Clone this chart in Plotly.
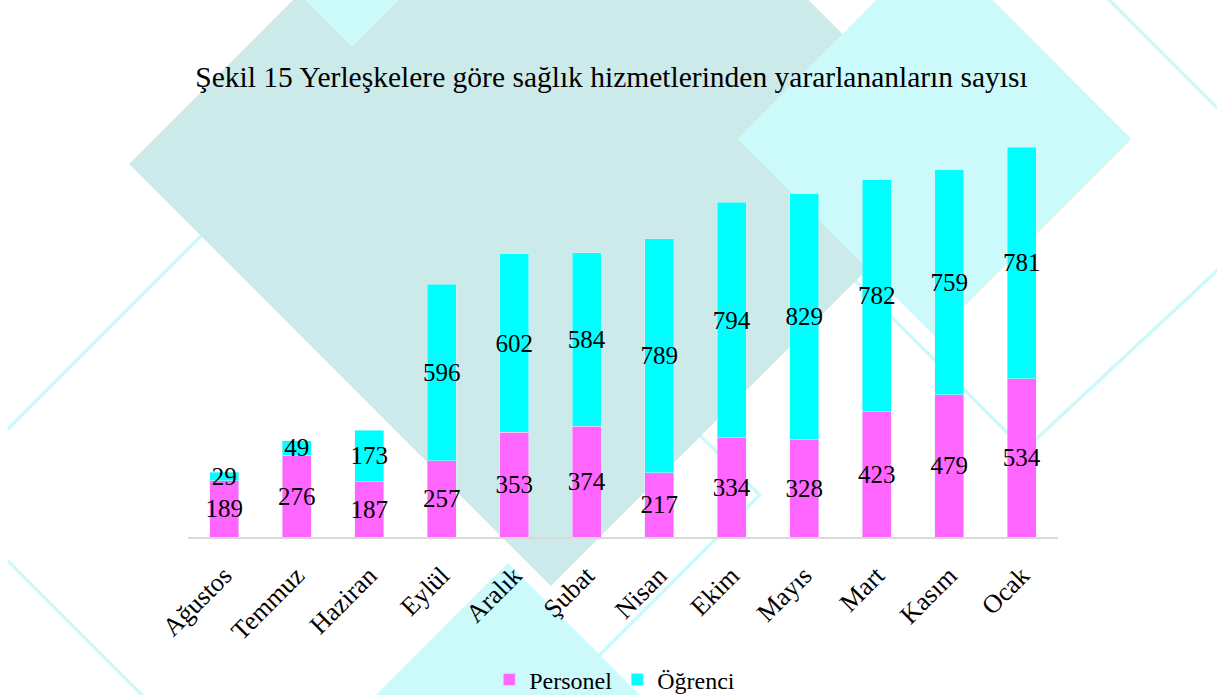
"""Şekil 15 — yerleşkelere göre sağlık hizmetlerinden yararlananlar (yığılmış sütun)."""
import plotly.graph_objects as go

aylar = ["Ağustos", "Temmuz", "Haziran", "Eylül", "Aralık", "Şubat",
         "Nisan", "Ekim", "Mayıs", "Mart", "Kasım", "Ocak"]
personel = [189, 276, 187, 257, 353, 374, 217, 334, 328, 423, 479, 534]
ogrenci = [29, 49, 173, 596, 602, 584, 789, 794, 829, 782, 759, 781]

W, H = 1217, 695
L, R, T, B = 188, 158.5, 137, 158
PW, PH = W - L - R, H - T - B
FONT = "Liberation Serif, Times New Roman, serif"

TEAL = "#cdeaea"
CYAN_L = "#ccfafa"


def pp(x, y):
    # piksel -> paper koordinatı (sadece süs şekilleri için)
    return (x - L) / PW, (H - B - y) / PH


def path(pts, close=True):
    s = ""
    for i, (x, y) in enumerate(pts):
        px, py = pp(x, y)
        s += ("M" if i == 0 else "L") + f"{px:.4f},{py:.4f}"
    return s + ("Z" if close else "")


def diamond(cx, cy, r):
    return [(cx - r, cy), (cx, cy - r), (cx + r, cy), (cx, cy + r)]


shapes = []
# ince çerçeve çizgileri (arkada)
for pts in ([(-58, 495), (351, 86), (760, 495), (351, 904)],
            [(760, 185), (1037, -73), (1302, 192), (1025, 450)]):
    shapes.append(dict(type="path", path=path(pts), xref="paper", yref="paper",
                       line=dict(color=CYAN_L, width=3.5), layer="below"))
# dolu karolar
shapes.append(dict(type="path", path=path(diamond(508, 760, 197)), xref="paper",
                   yref="paper", fillcolor=CYAN_L, line_width=0, layer="below"))
shapes.append(dict(type="path", path=path(diamond(551, 164, 422)), xref="paper",
                   yref="paper", fillcolor=TEAL, line_width=0, layer="below"))
shapes.append(dict(type="path", path=path(diamond(935, 139, 197)), xref="paper",
                   yref="paper", fillcolor=CYAN_L, line_width=0, layer="below"))
shapes.append(dict(type="path", path=path(diamond(352, -150, 197)), xref="paper",
                   yref="paper", fillcolor=CYAN_L, line_width=0, layer="below"))
# sol kenar beyaz şerit
shapes.append(dict(type="path", path=path([(-20, -20), (8, -20), (8, 720), (-20, 720)]),
                   xref="paper", yref="paper", fillcolor="white", line_width=0,
                   layer="below"))

fig = go.Figure()
fig.add_trace(go.Bar(
    x=aylar, y=personel, name="Personel", marker_color="#ff66ff",
    text=personel, textposition="inside", insidetextanchor="middle",
    textangle=0, constraintext="none",
    textfont=dict(family=FONT, size=25, color="black"),
))
fig.add_trace(go.Bar(
    x=aylar, y=ogrenci, name="Öğrenci", marker_color="#00ffff",
    text=ogrenci, textposition="inside", insidetextanchor="middle",
    textangle=0, constraintext="none",
    textfont=dict(family=FONT, size=25, color="black"),
))

fig.update_layout(
    width=W, height=H,
    barmode="stack", bargap=0.6,
    margin=dict(l=L, r=R, t=T, b=B, autoexpand=False),
    paper_bgcolor="white", plot_bgcolor="rgba(0,0,0,0)",
    font=dict(family=FONT, color="black", size=24),
    title=dict(
        text="Şekil 15 Yerleşkelere göre sağlık hizmetlerinden yararlananların sayısı",
        x=611.5 / W, xanchor="center", y=1 - 77 / H, yanchor="middle",
        font=dict(family=FONT, size=29.5, color="black"),
    ),
    legend=dict(orientation="h", x=pp(615, 0)[0], xanchor="center",
                y=pp(0, 680)[1], yanchor="middle", traceorder="normal",
                font=dict(family=FONT, size=24, color="black"),
                bgcolor="rgba(0,0,0,0)"),
    uniformtext=dict(minsize=25, mode="show"),
    shapes=shapes,
    showlegend=True,
)
fig.update_xaxes(showline=True, linecolor="#d9d9d9", linewidth=2, automargin=False,
                 ticks="", tickangle=-45, showgrid=False, ticklabelstandoff=11,
                 tickfont=dict(family=FONT, size=26, color="black"))
fig.update_yaxes(visible=False, automargin=False, range=[0, PH / (390 / 1315)])

# tarayıcının varsayılan 8px gövde boşluğunu kaldır
fig.write_html("out.html", config={"displayModeBar": False},
               post_script="document.body.style.margin='0';")
